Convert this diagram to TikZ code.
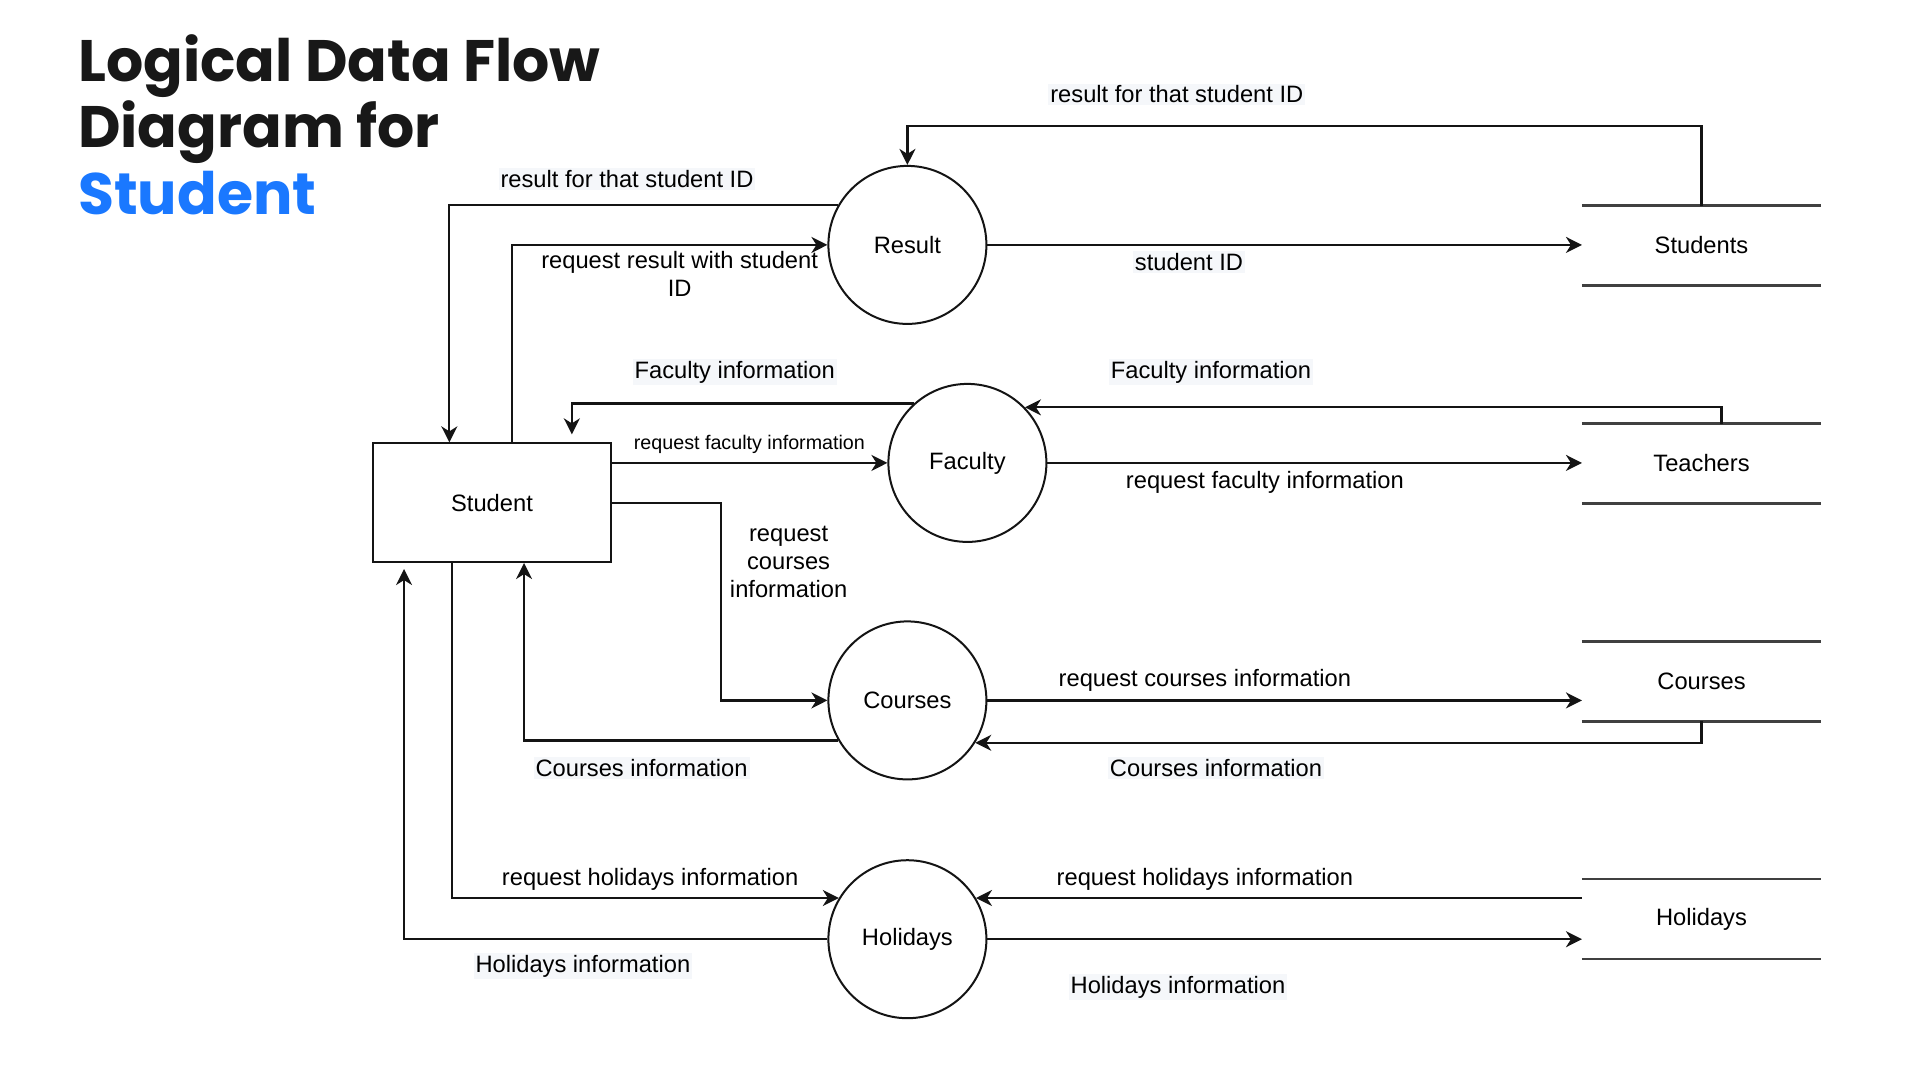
\documentclass[tikz,border=0pt]{standalone}
\usepackage{fontspec}
\setmainfont{Liberation Sans}
\newfontfamily\titlefont{Poppins}
\usetikzlibrary{arrows.meta}
\definecolor{titleblue}{RGB}{26,120,255}
\definecolor{titleink}{RGB}{24,24,24}
\definecolor{lblbg}{RGB}{245,247,250}
\definecolor{ink}{RGB}{20,20,20}
\newcommand\dfdfont{\fontsize{23.7}{28}\selectfont}
\newcommand\dfdsmall{\fontsize{19.7}{24}\selectfont}
\newcommand\ttlfont{\titlefont\bfseries\fontsize{58.5}{66}\selectfont}
\tikzset{
  flow/.style={draw=ink, line width=2.2pt, -{Stealth[length=16pt,width=16pt,inset=5pt]}},
  proc/.style={circle, draw=ink, line width=2pt, minimum size=158pt, inner sep=0pt, font=\dfdfont},
  ext/.style={rectangle, draw=ink, line width=2pt, minimum width=237.5pt, minimum height=118.7pt, font=\dfdfont},
  store/.style={rectangle, minimum width=238.7pt, minimum height=79.6pt, font=\dfdfont},
  storeline/.style={draw=black!75, line width=2.6pt},
  lab/.style={font=\dfdfont, inner sep=2pt, fill=lblbg},
  labw/.style={font=\dfdfont, inner sep=2pt},
  ttl/.style={anchor=base west, font=\ttlfont, inner sep=0pt},
}
\begin{document}
\begin{tikzpicture}[x=1pt,y=-1pt]
\useasboundingbox[fill=white] (0,0) rectangle (1920,1080);

% title
\node[ttl, text=titleink] (t1) at (78,81) {Logical Data Flow};
\node[ttl, text=titleink] (t2) at (78,147) {Diagram for};
\node[ttl, text=titleblue] (t3) at (78,214) {Student};

% nodes
\node[ext] (student) at (492,502.7) {Student};
\node[proc] (result) at (907.4,244.9) {Result};
\node[proc] (faculty) at (967.4,462.9) {Faculty};
\node[proc] (courses) at (907.4,700.4) {Courses};
\node[proc] (holidays) at (907.4,939.2) {Holidays};

\node[store] (dsStudents) at (1701.5,245.5) {Students};
\node[store] (dsTeachers) at (1701.5,463.5) {Teachers};
\node[store] (dsCourses) at (1701.5,681.4) {Courses};
\node[store] (dsHolidays) at (1701.5,919) {Holidays};
\foreach \s in {dsStudents,dsTeachers,dsCourses,dsHolidays}{
  \draw[storeline] (\s.north west) -- (\s.north east) (\s.south west) -- (\s.south east);
}

% connectors
\draw[flow] (dsStudents.north) -- ++(0,-79.6) -| (result.north);
\draw[flow] (result.east) -- (result.east -| dsStudents.west);
\draw[flow] (result.150) -| ([xshift=77.1pt]student.north west);
\draw[flow] ([xshift=139.6pt]student.north west) |- (result.west);
\draw[flow] (faculty.132) -| ([xshift=199.6pt,yshift=8pt]student.north west);
\draw[flow] (student.east |- faculty.west) -- (faculty.west);
\draw[flow] ([xshift=20pt]dsTeachers.north) |- (faculty.44);
\draw[flow] (faculty.east) -- (faculty.east -| dsTeachers.west);
\draw[flow] (student.east) -- ++(108.9,0) |- (courses.west);
\draw[flow] (courses.210) -| ([xshift=151.8pt]student.south west);
\draw[flow] (courses.east) -- (courses.east -| dsCourses.west);
\draw[flow] (dsCourses.south) |- (courses.-32);
\draw[flow] ([xshift=79.6pt]student.south west) |- (holidays.149);
\draw[flow] (holidays.west) -| ([xshift=31.8pt,yshift=-6pt]student.south west);
\draw[flow] (holidays.31 -| dsHolidays.west) -- (holidays.31);
\draw[flow] (holidays.east) -- (holidays.east -| dsHolidays.west);

% labels
\node[lab] (l1) at (1176.8,94.3) {result for that student ID};
\node[lab] (l2) at (1189,262) {student ID};
\node[lab] (l3) at (627,178.8) {result for that student ID};
\node[labw, align=center] (l4) at (679.6,274.3) {request result with student\\ID};
\node[lab] (l5) at (734.7,372.2) {Faculty information};
\node[labw, font=\dfdsmall] (l6) at (749.4,444.5) {request faculty information};
\node[lab] (l7) at (1211,372.2) {Faculty information};
\node[labw] (l8) at (1264.9,482.5) {request faculty information};
\node[labw, align=center] (l9) at (788.6,562) {request\\courses\\information};
\node[lab] (l10) at (641.6,767.8) {Courses information};
\node[labw] (l11) at (1204.9,680.8) {request courses information};
\node[lab] (l12) at (1216,767.8) {Courses information};
\node[labw] (l13) at (650.2,879.2) {request holidays information};
\node[labw] (l14) at (1204.9,879.2) {request holidays information};
\node[lab] (l15) at (582.9,966.1) {Holidays information};
\node[lab] (l16) at (1178,987) {Holidays information};
\end{tikzpicture}
\end{document}
